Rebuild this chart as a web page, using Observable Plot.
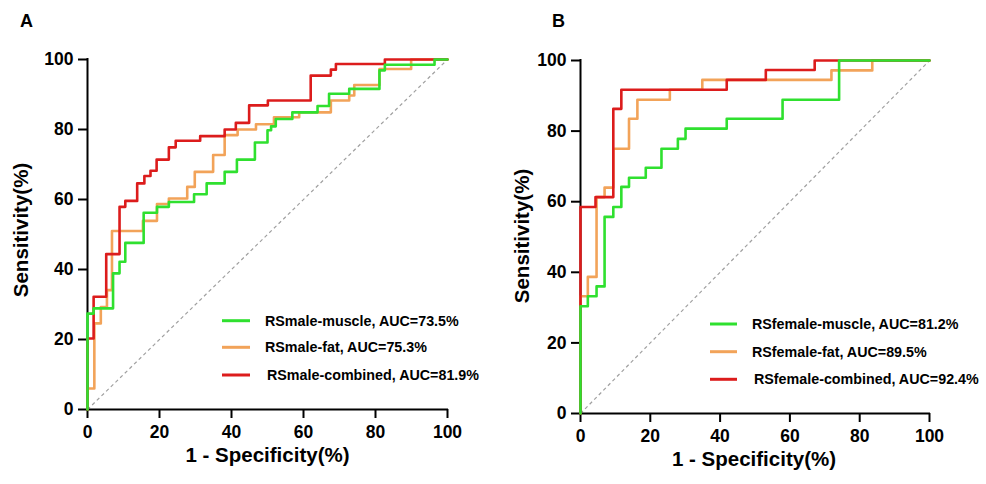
<!DOCTYPE html>
<html>
<head>
<meta charset="utf-8">
<script src="https://cdn.jsdelivr.net/npm/d3@7"></script>
<script src="https://cdn.jsdelivr.net/npm/@observablehq/plot@0.6"></script>
<style>
  html, body { margin: 0; padding: 0; background: #fff; }
  #wrap { position: relative; width: 986px; height: 484px; overflow: hidden; font-family: "Liberation Sans", Arial, sans-serif; }
  #wrap > svg, #wrap > figure { position: absolute; top: 0; margin: 0; }
  #overlay { position: absolute; left: 0; top: 0; pointer-events: none; }
</style>
</head>
<body>
<div id="wrap"></div>
<script>
// ---- Data (values in %) ----
const ticks = [0, 20, 40, 60, 80, 100];
const diagonal = [0, 100];

// Panel A (male)
const maleMuscleFPR = [0, 0, 1.7, 7.1, 8.9, 10.5, 15.6, 19.3, 22.6, 29.6, 33.1, 38.1, 41.5, 46.5, 50, 51, 52.3, 56.9, 63.9, 67.1, 72.7, 81.1, 82.6, 96.4, 100];
const maleMuscleTPR = [0, 27.4, 28.9, 38.9, 42.2, 47.6, 56.2, 57.9, 59.3, 61.5, 64.6, 67.9, 71.4, 76.3, 79.8, 80.9, 83, 84.9, 86.7, 90.2, 91.6, 96.9, 98.5, 100, 100];
const maleFatFPR = [0, 0, 1.9, 3.7, 5.4, 6.8, 15.4, 19.3, 22.6, 27.7, 29.8, 34.9, 38.1, 41.7, 46.8, 51.8, 58.8, 67.6, 72.7, 74.1, 81.1, 89.9, 100];
const maleFatTPR = [0, 6, 24.6, 29.3, 34.1, 51, 53.9, 58.7, 60.3, 63.6, 67.9, 72.7, 78.4, 80, 81.5, 83.5, 84.9, 88.3, 89.7, 92.7, 97.3, 100, 100];
const maleCombFPR = [0, 0, 1.7, 5.2, 8.9, 10.5, 13.8, 15.8, 17.5, 19.2, 22.6, 24.5, 31.3, 38.1, 41.2, 44.9, 50.1, 62, 67.6, 69, 82.6, 100];
const maleCombTPR = [0, 20.3, 32.2, 44.4, 57.9, 59.6, 64.6, 66.7, 68.2, 71.4, 74.9, 76.8, 78.1, 80, 81.9, 86.9, 88.3, 95.4, 97.1, 98.7, 100, 100];

// Panel B (female)
const femaleMuscleFPR = [0, 0, 2.1, 4.6, 6.9, 9.4, 11.7, 13.9, 18.7, 23.2, 27.9, 30.1, 41.9, 57.9, 74.1, 100];
const femaleMuscleTPR = [0, 30.4, 33.2, 36, 55.7, 58.5, 64.2, 66.8, 69.6, 75, 77.8, 80.7, 83.5, 88.9, 100, 100];
const femaleFatFPR = [0, 0, 2.1, 4.6, 6.9, 9.4, 13.9, 16.3, 25.6, 34.9, 71.9, 83.6, 100];
const femaleFatTPR = [0, 33.2, 38.7, 61.3, 64, 75, 83.5, 88.9, 91.7, 94.5, 97.2, 100, 100];
const femaleCombFPR = [0, 0, 4.3, 9.4, 11.7, 41.9, 53.1, 67.1, 100];
const femaleCombTPR = [0, 58.5, 61.3, 86.3, 91.7, 94.5, 97.3, 100, 100];

const legendA = ["RSmale-muscle, AUC=73.5%", "RSmale-fat, AUC=75.3%", "RSmale-combined, AUC=81.9%"];
const legendB = ["RSfemale-muscle, AUC=81.2%", "RSfemale-fat, AUC=89.5%", "RSfemale-combined, AUC=92.4%"];

const GREEN = "#2fe02f", ORANGE = "#f2a359", RED = "#dc1c1c";
const FONT = "'Liberation Sans', Arial, sans-serif";

function pts(xs, ys) { return xs.map((x, i) => ({x, y: ys[i]})); }

function panel(series, m) {
  return Plot.plot({
    width: m.width, height: 484,
    marginLeft: m.left, marginRight: m.right, marginTop: m.top, marginBottom: m.bottom,
    x: {domain: [0, 100]},
    y: {domain: [0, 100]},
    style: {fontFamily: FONT, color: "#000", background: "transparent", overflow: "visible"},
    marks: [
      Plot.link([diagonal], {x1: d => d[0], y1: d => d[0], x2: d => d[1], y2: d => d[1],
        stroke: "#a0a0a0", strokeWidth: 1.2, strokeDasharray: "3.5,3"}),
      Plot.ruleY([0], {stroke: "#000", strokeWidth: 2, strokeLinecap: "square"}),
      Plot.ruleX([0], {stroke: "#000", strokeWidth: 2, strokeLinecap: "square"}),
      Plot.axisX({ticks, tickSize: 9, tickPadding: 7, fontSize: 17.5, fontWeight: "bold", strokeWidth: 2, label: null, tickFormat: d => d}),
      Plot.axisY({ticks, tickSize: 9, tickPadding: 5, fontSize: 17.5, fontWeight: "bold", strokeWidth: 2, label: null, tickFormat: d => d}),
      ...series.map(s => Plot.line(s.data, {x: "x", y: "y", curve: "step-after", stroke: s.color, strokeWidth: 2.6}))
    ]
  });
}

const wrap = document.getElementById("wrap");

const svgA = panel([
  {data: pts(maleFatFPR, maleFatTPR), color: ORANGE},
  {data: pts(maleCombFPR, maleCombTPR), color: RED},
  {data: pts(maleMuscleFPR, maleMuscleTPR), color: GREEN}
], {width: 490, left: 87, right: 43, top: 59, bottom: 75});
svgA.style.left = "0px";
wrap.appendChild(svgA);

const svgB = panel([
  {data: pts(femaleFatFPR, femaleFatTPR), color: ORANGE},
  {data: pts(femaleCombFPR, femaleCombTPR), color: RED},
  {data: pts(femaleMuscleFPR, femaleMuscleTPR), color: GREEN}
], {width: 496, left: 90, right: 57, top: 60, bottom: 71});
svgB.style.left = "490px";
wrap.appendChild(svgB);

// ---- Overlay: panel letters, axis titles, legends ----
const NS = "http://www.w3.org/2000/svg";
const ov = document.createElementNS(NS, "svg");
ov.setAttribute("id", "overlay");
ov.setAttribute("width", 986);
ov.setAttribute("height", 484);
ov.setAttribute("font-family", FONT);
wrap.appendChild(ov);

function txt(s, x, y, size, opts = {}) {
  const t = document.createElementNS(NS, "text");
  t.textContent = s;
  t.setAttribute("x", 0); t.setAttribute("y", 0);
  t.setAttribute("transform", `translate(${x},${y})` + (opts.rotate ? ` rotate(${opts.rotate})` : ""));
  t.setAttribute("font-size", size);
  t.setAttribute("font-weight", opts.weight || "bold");
  t.setAttribute("text-anchor", opts.anchor || "start");
  t.setAttribute("fill", "#000");
  ov.appendChild(t);
}
function seg(x1, x2, y, color) {
  const l = document.createElementNS(NS, "line");
  l.setAttribute("x1", x1); l.setAttribute("x2", x2);
  l.setAttribute("y1", y); l.setAttribute("y2", y);
  l.setAttribute("stroke", color); l.setAttribute("stroke-width", 3);
  ov.appendChild(l);
}

txt("A", 20, 27, 18);
txt("B", 552, 27, 18);
txt("1 - Specificity(%)", 267.5, 462, 20.5, {anchor: "middle"});
txt("1 - Specificity(%)", 754, 466, 20.5, {anchor: "middle"});
txt("Sensitivity(%)", 28, 230, 20.5, {anchor: "middle", rotate: -90});
txt("Sensitivity(%)", 529, 236, 20.5, {anchor: "middle", rotate: -90});

const colors = [GREEN, ORANGE, RED];
const legAy = [320.7, 347.3, 375];
const legAx = [265, 265, 267];
legendA.forEach((s, i) => { seg(222, 250, legAy[i], colors[i]); txt(s, legAx[i], legAy[i] + 5, 14.3); });
const legBy = [324, 351.7, 379.3];
const legBx = [752, 752, 754];
legendB.forEach((s, i) => { seg(710, 737, legBy[i], colors[i]); txt(s, legBx[i], legBy[i] + 5, 14.3); });
</script>
</body>
</html>
